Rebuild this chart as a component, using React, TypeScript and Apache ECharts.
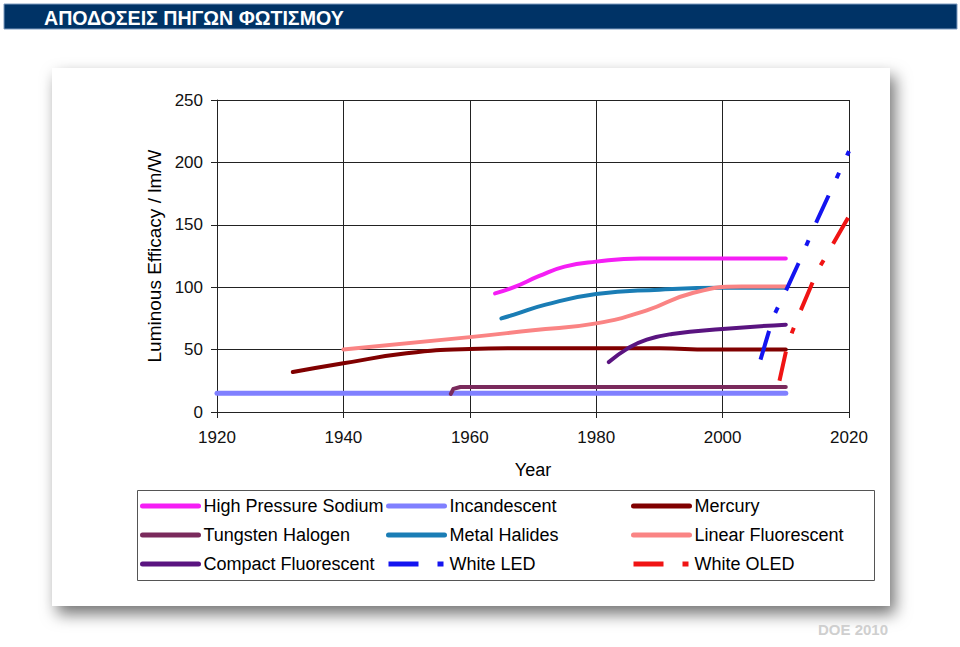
import React, { useEffect, useRef } from 'react';
import * as echarts from 'echarts';

// ---- data (year, luminous efficacy lm/W) ----
const highPressureSodium = [[1964, 95], [1967, 100], [1971, 109], [1975, 116.5], [1980, 120.5], [1987, 123], [2010, 123]];
const incandescent = [[1920, 15], [2010, 15]];
const mercury = [[1932, 32], [1940, 39], [1950, 47], [1960, 50.5], [1966, 51], [1990, 51], [1998, 50], [2010, 50]];
const tungstenHalogen = [[1957, 14.5], [1957.4, 18.5], [1958.5, 20], [2010, 20]];
const metalHalides = [[1965, 75], [1967, 78], [1972, 86], [1980, 94.5], [1990, 98], [2000, 99.5], [2010, 99.5]];
const linearFluorescent = [[1940, 50], [1960, 60], [1970, 65.5], [1980, 71], [1988, 81.5], [1995, 95], [2003, 100.5], [2010, 100.5]];
const compactFluorescent = [[1982, 40], [1985, 51], [1988, 58], [1992, 62.5], [2000, 66.5], [2010, 70]];
const whiteLED = [[2006, 42], [2008, 76], [2010, 97], [2012, 119], [2015, 154], [2020, 209]];
const whiteOLED = [[2009, 25], [2010, 48], [2011, 64], [2012, 77], [2014, 101], [2015, 113], [2020, 157]];

const legendColumn1 = ['High Pressure Sodium', 'Tungsten Halogen', 'Compact Fluorescent'];
const legendColumn2 = ['Incandescent', 'Metal Halides', 'White LED'];
const legendColumn3 = ['Mercury', 'Linear Fluorescent', 'White OLED'];

const titleText = 'ΑΠΟΔΟΣΕΙΣ ΠΗΓΩΝ ΦΩΤΙΣΜΟΥ';
const sourceText = 'DOE 2010';
const xAxisTitle = 'Year';
const yAxisTitle = 'Luminous Efficacy / lm/W';

const FONT = '"Liberation Sans", Arial, Helvetica, sans-serif';
const DASH = [30, 19, 6, 19];

function lineSeries(name: string, data: number[][], color: string, opts: any = {}) {
  return {
    name,
    type: 'line',
    data,
    symbol: 'none',
    showSymbol: false,
    smooth: opts.smooth === undefined ? 0.5 : opts.smooth,
    z: opts.z || 2,
    lineStyle: {
      color,
      width: opts.width || 4,
      type: opts.dash || 'solid',
      cap: opts.dash ? 'butt' : 'round',
      join: 'round',
    },
    itemStyle: { color },
  };
}

function legendAt(left: number, names: string[]) {
  return {
    data: names,
    orient: 'vertical',
    left,
    top: 497,
    padding: 0,
    itemWidth: 56,
    itemHeight: 14,
    itemGap: 11,
    itemTextGap: 0,
    selectedMode: false,
    itemStyle: { opacity: 0 },
    lineStyle: { width: 5 },
    textStyle: { fontSize: 18, lineHeight: 18, color: '#000', fontFamily: FONT },
  };
}

export default function App() {
  const ref = useRef<HTMLDivElement>(null);
  useEffect(() => {
    if (!ref.current) return;
    const chart = echarts.init(ref.current, undefined, { renderer: 'svg' });
    chart.setOption({
      animation: false,
      backgroundColor: '#ffffff',
      textStyle: { fontFamily: FONT },
      graphic: [
        {
          type: 'rect', z: -100,
          shape: { x: 4, y: 4, width: 953, height: 25 },
          style: { fill: '#003366', stroke: '#7f9cc0', lineWidth: 1 },
        },
        {
          type: 'text', z: 10, x: 44, y: 17.5,
          style: { text: titleText, fill: '#ffffff', font: `bold 19.6px ${FONT}`, textVerticalAlign: 'middle' },
        },
        {
          type: 'rect', z: -100,
          shape: { x: 52, y: 68, width: 838, height: 538 },
          style: { fill: '#ffffff', shadowBlur: 16, shadowOffsetX: 5, shadowOffsetY: 8, shadowColor: 'rgba(0,0,0,0.55)' },
        },
        {
          type: 'rect', z: -50,
          shape: { x: 137.5, y: 490.5, width: 737, height: 90 },
          style: { fill: '#ffffff', stroke: '#555555', lineWidth: 1 },
        },
        {
          type: 'text', z: 10, x: 818, y: 629,
          style: { text: sourceText, fill: '#cfcfcf', font: `bold 15px ${FONT}`, textVerticalAlign: 'middle' },
        },
      ],
      grid: { left: 217, top: 100, width: 632, height: 312, containLabel: false },
      xAxis: {
        type: 'value',
        min: 1920,
        max: 2020,
        interval: 20,
        name: xAxisTitle,
        nameLocation: 'middle',
        nameGap: 49,
        nameTextStyle: { fontSize: 18, color: '#000', fontFamily: FONT },
        axisLine: { show: true, lineStyle: { color: '#222', width: 1 } },
        axisTick: { show: true, length: 6, lineStyle: { color: '#222' } },
        axisLabel: { fontSize: 17, color: '#111', margin: 17, fontFamily: FONT, formatter: (v: number) => String(v) },
        splitLine: { show: true, lineStyle: { color: '#222', width: 1 } },
      },
      yAxis: {
        type: 'value',
        min: 0,
        max: 250,
        interval: 50,
        name: yAxisTitle,
        nameLocation: 'middle',
        nameGap: 53,
        nameTextStyle: { fontSize: 19, color: '#000', fontFamily: FONT },
        axisLine: { show: true, lineStyle: { color: '#222', width: 1 } },
        axisTick: { show: true, length: 6, lineStyle: { color: '#222' } },
        axisLabel: { fontSize: 17, color: '#111', margin: 14, fontFamily: FONT },
        splitLine: { show: true, lineStyle: { color: '#222', width: 1 } },
      },
      legend: [legendAt(140, legendColumn1), legendAt(386, legendColumn2), legendAt(631, legendColumn3)],
      series: [
        lineSeries('High Pressure Sodium', highPressureSodium, '#f51ef5'),
        lineSeries('Incandescent', incandescent, '#8080ff', { width: 5, smooth: false }),
        lineSeries('Mercury', mercury, '#800000'),
        lineSeries('Tungsten Halogen', tungstenHalogen, '#7a2a5c', { smooth: false }),
        lineSeries('Metal Halides', metalHalides, '#1a7db5'),
        lineSeries('Linear Fluorescent', linearFluorescent, '#fa8484'),
        lineSeries('Compact Fluorescent', compactFluorescent, '#5a1480'),
        lineSeries('White LED', whiteLED, '#1414f0', { smooth: false, dash: DASH, z: 3 }),
        lineSeries('White OLED', whiteOLED, '#f01414', { smooth: false, dash: DASH, z: 3 }),
      ],
    });
    return () => chart.dispose();
  }, []);
  return <div ref={ref} style={{ position: 'fixed', left: 0, top: 0, width: 960, height: 647 }} />;
}
